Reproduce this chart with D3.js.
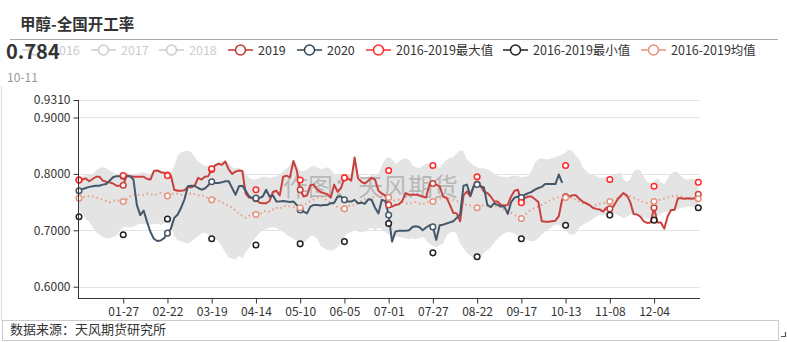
<!DOCTYPE html>
<html><head><meta charset="utf-8">
<script src="https://cdn.jsdelivr.net/npm/d3@7"></script>
<style>
body{margin:0;background:#fff;}
svg{display:block;font-family:"Noto Sans CJK SC","Microsoft YaHei",sans-serif;}
</style>
</head><body>
<svg id="c" width="787" height="342"></svg>
<script>
// ---------- data ----------
const title = "甲醇-全国开工率";
const latestValue = "0.784";
const latestDate = "10-11";
const sourceText = "数据来源：天风期货研究所";
const watermark = "作图：天风期货";
const legendNames = ["2016","2017","2018","2019","2020","2016-2019最大值","2016-2019最小值","2016-2019均值"];
const legendColors = ["#cccccc","#cccccc","#cccccc","#c23531","#2f4554","#ff2a2a","#222222","#e3937b"];
const legendOn = [false,false,false,true,true,true,true,true];
const tickLabels = ["01-27","02-22","03-19","04-14","05-10","06-05","07-01","07-27","08-22","09-17","10-13","11-08","12-04"];
const yTicks = [0.6,0.7,0.8,0.9,0.931];
const markDays = ["01-01","01-27","02-22","03-19","04-14","05-10","06-05","07-01","07-27","08-22","09-17","10-13","11-08","12-04","12-30"];
const maxMarks = [.789,.797,.797,.809,.772,.789,.793,.806,.815,.795,.749,.815,.790,.778,.785];
const minMarks = [.724,.692,.720,.685,.674,.676,.680,.712,.660,.653,.685,.709,.727,.718,.740];

// values every second day (01-01, 01-03, ...)
const s2019 = [
.789,.790,.792,.787,.791,.795,.795,.788,.786,.785,
.783,.779,.779,.780,.797,.796,.795,.795,.795,.795,
.791,.790,.805,.806,.803,.802,.798,.797,.772,.770,
.770,.771,.777,.776,.779,.793,.790,.795,.796,.808,
.815,.818,.816,.822,.808,.800,.804,.806,.805,.765,
.758,.757,.756,.749,.748,.748,.752,.768,.770,.762,
.795,.797,.794,.823,.806,.772,.760,.762,.780,.781,
.772,.768,.766,.764,.758,.781,.768,.775,.793,.792,
.788,.829,.792,.786,.783,.788,.793,.790,.770,.765,
.762,.745,.742,.745,.746,.752,.766,.763,.763,.763,
.762,.760,.758,.781,.783,.781,.778,.760,.758,.745,
.731,.730,.716,.762,.769,.760,.778,.782,.779,.769,
.766,.760,.751,.751,.745,.744,.745,.760,.770,.772,
.750,.757,.760,.760,.755,.750,.716,.715,.715,.716,
.717,.725,.755,.760,.760,.762,.762,.756,.751,.748,
.745,.740,.738,.737,.733,.740,.738,.742,.752,.760,
.766,.762,.750,.729,.728,.724,.716,.713,.714,.740,
.714,.714,.703,.725,.736,.736,.757,.757,.756,.757,
.756,.757,.764];
const s2020 = [
.770,.773,.775,.777,.778,.779,.779,.781,.782,.788,
.794,.796,.796,.796,.796,.796,.790,.745,.727,.735,
.715,.697,.685,.681,.682,.686,.695,.703,.722,.728,
.740,.755,.778,.779,.779,.775,.772,.774,.780,.786,
.784,.784,.785,.787,.787,.775,.763,.778,.779,.770,
.760,.757,.757,.757,.760,.772,.760,.762,.751,.751,
.752,.751,.750,.751,.745,.736,.733,.730,.742,.745,
.745,.744,.745,.745,.748,.749,.760,.760,.754,.751,
.751,.754,.748,.749,.747,.755,.754,.740,.730,.754,
.752,.727,.680,.698,.699,.699,.699,.700,.706,.707,
.706,.700,.705,.709,.706,.683,.709,.710,.712,.714,
.716,.722,.728,.779,.781,.762,.779,.781,.778,.776,
.745,.741,.748,.745,.742,.742,.729,.750,.758,.760,
.758,.763,.766,.768,.772,.775,.777,.782,.782,.782,
.782,.799,.784];
const meanVals = [
.757,.758,.760,.761,.760,.758,.756,.754,.752,.750,
.752,.754,.752,.751,.755,.760,.763,.764,.762,.763,
.765,.764,.762,.764,.766,.763,.761,.764,.766,.765,
.763,.762,.764,.766,.764,.762,.763,.760,.757,.754,
.756,.753,.750,.746,.744,.740,.735,.730,.725,.722,
.726,.730,.728,.727,.733,.735,.733,.737,.740,.738,
.742,.744,.742,.741,.739,.740,.745,.748,.752,.755,
.758,.760,.757,.752,.748,.745,.741,.738,.738,.742,
.745,.744,.748,.752,.755,.754,.757,.760,.762,.760,
.758,.758,.755,.752,.754,.750,.748,.747,.749,.750,
.748,.746,.749,.752,.751,.755,.757,.756,.758,.756,
.754,.752,.750,.746,.745,.744,.742,.740,.742,.745,
.743,.742,.741,.744,.740,.737,.735,.731,.727,.723,
.721,.727,.733,.737,.740,.742,.745,.748,.752,.755,
.757,.759,.760,.758,.757,.758,.754,.751,.748,.746,
.744,.742,.745,.747,.748,.750,.751,.754,.757,.759,
.760,.761,.760,.758,.755,.752,.750,.748,.749,.751,
.753,.755,.756,.758,.760,.762,.761,.760,.758,.757,
.756,.757,.756];
const bandHigh = [
.796,.796,.797,.798,.800,.806,.810,.812,.810,.806,
.803,.800,.800,.801,.802,.800,.799,.800,.802,.803,
.801,.800,.806,.808,.806,.803,.800,.800,.815,.832,
.838,.840,.841,.838,.830,.822,.818,.815,.814,.815,
.818,.820,.822,.824,.818,.812,.810,.810,.808,.800,
.793,.790,.790,.793,.795,.795,.793,.794,.796,.798,
.805,.810,.815,.825,.815,.805,.805,.808,.812,.815,
.812,.808,.810,.812,.808,.800,.800,.798,.798,.799,
.800,.830,.800,.795,.792,.795,.798,.797,.800,.815,
.826,.830,.826,.818,.822,.826,.828,.825,.815,.812,
.810,.814,.818,.818,.818,.815,.810,.818,.825,.828,
.830,.836,.842,.840,.825,.820,.815,.812,.810,.810,
.808,.805,.800,.797,.795,.795,.794,.796,.797,.796,
.794,.795,.796,.805,.820,.826,.828,.826,.826,.828,
.830,.832,.835,.838,.843,.840,.832,.825,.812,.806,
.800,.798,.796,.793,.793,.795,.797,.798,.800,.803,
.790,.786,.790,.805,.808,.806,.795,.785,.784,.787,
.792,.785,.782,.792,.800,.804,.803,.796,.790,.790,
.792,.790,.789];
const bandLow = [
.738,.728,.720,.715,.705,.698,.692,.688,.686,.686,
.688,.690,.700,.705,.706,.705,.706,.710,.712,.711,
.710,.710,.712,.711,.710,.712,.714,.708,.690,.682,
.680,.678,.676,.680,.684,.690,.694,.696,.692,.688,
.685,.680,.672,.660,.652,.650,.648,.655,.650,.662,
.668,.680,.688,.695,.700,.702,.705,.706,.704,.700,
.697,.692,.688,.685,.680,.676,.678,.683,.690,.690,
.685,.672,.668,.665,.664,.666,.670,.680,.688,.695,
.697,.700,.698,.696,.698,.702,.704,.700,.704,.702,
.697,.692,.690,.690,.688,.687,.686,.684,.686,.684,
.686,.688,.683,.676,.672,.670,.674,.676,.690,.696,
.698,.694,.676,.668,.660,.655,.650,.646,.652,.660,
.665,.670,.678,.685,.690,.695,.697,.696,.694,.690,
.686,.684,.682,.680,.682,.686,.692,.698,.702,.706,
.710,.710,.706,.700,.694,.692,.695,.705,.710,.713,
.716,.720,.724,.727,.727,.726,.728,.730,.728,.725,
.722,.724,.728,.730,.728,.725,.722,.720,.721,.724,
.726,.730,.733,.733,.734,.736,.738,.740,.741,.742,
.742,.741,.742];

// ---------- chart ----------
const fmt = d3.timeFormat("%m-%d");
const days = d3.timeDay.range(new Date(2020,0,1), new Date(2021,0,1)).map(fmt);
const sampleDays = days.filter((d,i)=>i%2===0);

const svg = d3.select("#c");
const x = d3.scalePoint().domain(days).range([79, 700]);
const y = d3.scaleLinear().domain([0.58, 0.931]).range([298, 100]);

// title
svg.append("text").attr("x",20).attr("y",30).attr("font-size",15.5).attr("font-weight","bold")
  .attr("fill","#333").text(title);
svg.append("line").attr("x1",10).attr("x2",778).attr("y1",39.5).attr("y2",39.5)
  .attr("stroke","#aaa").attr("stroke-width",1);

// left border and footer box
svg.append("line").attr("x1",1.5).attr("x2",1.5).attr("y1",86).attr("y2",321).attr("stroke","#ddd");

// grid
const grid = svg.append("g");
yTicks.forEach(t=>{
  grid.append("line").attr("x1",78).attr("x2",700).attr("y1",Math.round(y(t))+0.5).attr("y2",Math.round(y(t))+0.5)
    .attr("stroke","#e3e3e3");
});

// band
const rows = sampleDays.map((d,i)=>({d, hi:bandHigh[i], lo:bandLow[i]}));
svg.append("path").datum(rows)
  .attr("d", d3.area().x(r=>x(r.d)).y0(r=>y(r.lo)).y1(r=>y(r.hi)))
  .attr("fill","#e4e4e4");

// watermark
svg.append("text").attr("x",283).attr("y",196).attr("font-size",25).attr("fill","#a8a8a8")
  .attr("fill-opacity",0.75).text(watermark);

// mean dotted line
const line = d3.line().x(p=>x(p.d)).y(p=>y(p.v));
const meanPts = sampleDays.map((d,i)=>({d, v:meanVals[i]}));
svg.append("path").datum(meanPts).attr("d",line).attr("fill","none")
  .attr("stroke","#e3a08a").attr("stroke-width",2).attr("stroke-dasharray","1.5,3");

const p2019 = sampleDays.map((d,i)=>({d, v:s2019[i]}));
const p2020 = s2020.map((v,i)=>({d:sampleDays[i], v}));
svg.append("path").datum(p2019).attr("d",line).attr("fill","none")
  .attr("stroke","#c9403d").attr("stroke-width",2).attr("stroke-linejoin","round");
svg.append("path").datum(p2020).attr("d",line).attr("fill","none")
  .attr("stroke","#44586a").attr("stroke-width",2).attr("stroke-linejoin","round");

// symbols
function marks(pts, color){
  svg.append("g").selectAll("circle").data(pts).join("circle")
    .attr("cx",p=>x(p.d)).attr("cy",p=>y(p.v)).attr("r",2.8)
    .attr("fill","#fff").attr("stroke",color).attr("stroke-width",1.5);
}
const onMark = p => markDays.includes(p.d);
marks(p2019.filter(onMark), "#c9403d");
marks(p2020.filter(onMark), "#44586a");
marks(markDays.map((d,i)=>({d, v:maxMarks[i]})), "#ff2a2a");
marks(markDays.map((d,i)=>({d, v:minMarks[i]})), "#222");
marks(meanPts.filter(onMark), "#e3937b");

// axes
const yAxis = svg.append("g").attr("transform","translate(78.5,0)")
  .call(d3.axisLeft(y).tickValues(yTicks).tickFormat(d3.format(".4f")).tickSize(5).tickPadding(3));
yAxis.select(".domain").attr("stroke","#333").attr("d","M0,100V298.5");
yAxis.selectAll(".tick line").attr("stroke","#333");
yAxis.selectAll("text").attr("font-size",12).attr("fill","#333").attr("font-family","\"Noto Sans CJK SC\",sans-serif");

const xAxis = svg.append("g").attr("transform","translate(0,298.5)")
  .call(d3.axisBottom(x).tickValues(tickLabels).tickSize(5).tickPadding(4));
xAxis.select(".domain").attr("stroke","#333").attr("d","M78,0H700");
xAxis.selectAll(".tick line").attr("stroke","#333");
xAxis.selectAll("text").attr("font-size",12).attr("fill","#333").attr("font-family","\"Noto Sans CJK SC\",sans-serif");

// legend
const legendX = [22, 91, 159, 228, 297, 366, 503, 641];
legendNames.forEach((name,i)=>{
  const g = svg.append("g").attr("transform",`translate(${legendX[i]},50)`);
  const c = legendColors[i];
  g.append("line").attr("x1",0).attr("x2",25).attr("y1",0).attr("y2",0).attr("stroke",c).attr("stroke-width",1.5);
  g.append("circle").attr("cx",12.5).attr("cy",0).attr("r",5).attr("fill","#fff").attr("stroke",c).attr("stroke-width",1.5);
  g.append("text").attr("x",30).attr("y",4.5).attr("font-size",12.5)
    .attr("fill", legendOn[i] ? "#333" : "#ccc").text(name);
});

// latest value
svg.append("text").attr("x",6).attr("y",59).attr("font-size",20).attr("font-weight","bold")
  .attr("fill","#333").text(latestValue);
svg.append("text").attr("x",7).attr("y",82).attr("font-size",12).attr("fill","#999").text(latestDate);

// footer
svg.append("rect").attr("x",2.5).attr("y",320.5).attr("width",776).attr("height",20)
  .attr("fill","none").attr("stroke","#ccc");
svg.append("text").attr("x",10).attr("y",334).attr("font-size",13).attr("fill","#333").text(sourceText);
svg.append("path").attr("d","M781,336.5H785.5V332").attr("fill","none").attr("stroke","#555").attr("stroke-width",1.2);
</script>
</body></html>
